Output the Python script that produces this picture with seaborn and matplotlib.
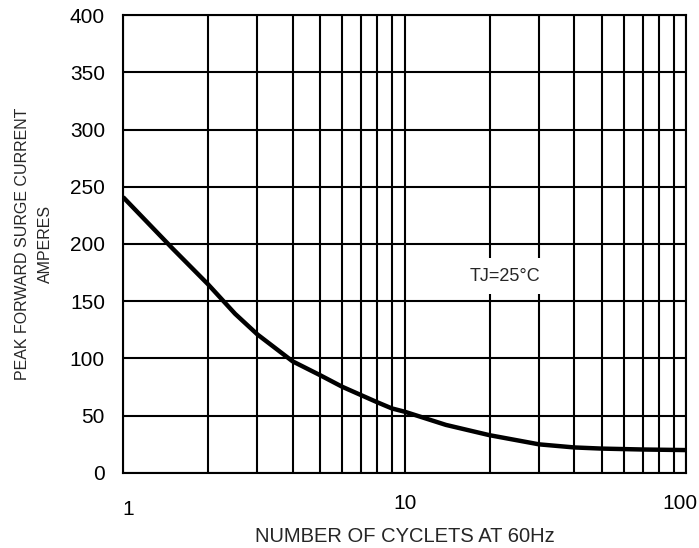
import numpy as np
import pandas as pd
import seaborn as sns
import matplotlib
matplotlib.use('Agg')
import matplotlib.pyplot as plt
import matplotlib.transforms as mtransforms
from matplotlib.ticker import FixedLocator, NullFormatter, LogLocator

cycles = [1, 1.5, 2, 2.5, 3, 4, 5, 6, 7, 8, 9, 10, 14, 20, 30, 40, 50, 70, 100]
current = [241, 196, 165, 139, 121, 97.5, 85.5, 75.3, 68, 61.7, 56.4, 53.5, 42,
           33, 25, 22.3, 21.3, 20.5, 20]
x_ticks = [1, 10, 100]
x_tick_labels = ['1', '10', '100']
y_ticks = [0, 50, 100, 150, 200, 250, 300, 350, 400]

sns.set_style('white')
plt.rcParams['font.family'] = ['Liberation Sans', 'DejaVu Sans']

df = pd.DataFrame({'cycles': cycles, 'current': current})

fig = plt.figure(figsize=(6.99, 5.48), dpi=100)
ax = fig.add_axes([0.176, 0.1369, 0.806, 0.8357])

sns.lineplot(data=df, x='cycles', y='current', color='black', linewidth=3.2,
             ax=ax, zorder=3)
ax.lines[-1].set_solid_capstyle('butt')
ax.lines[-1].set_solid_joinstyle('round')

ax.set_xscale('log')
ax.set_xlim(1, 100)
ax.set_ylim(0, 400)
ax.xaxis.set_major_locator(FixedLocator(x_ticks))
ax.set_xticklabels(x_tick_labels)
ax.xaxis.set_minor_locator(LogLocator(base=10, subs=np.arange(2, 10)))
ax.xaxis.set_minor_formatter(NullFormatter())
ax.set_yticks(y_ticks)

ax.grid(False)
ax.xaxis.grid(True, which='both', color='black', linewidth=1.5)
ax.yaxis.grid(True, which='major', color='black', linewidth=1.5)
for s in ax.spines.values():
    s.set_color('black')
    s.set_linewidth(1.5)

ax.tick_params(axis='both', which='both', length=0, labelsize=15, colors='black')
ax.tick_params(axis='x', pad=15)
ax.tick_params(axis='y', pad=13)

# nudge end labels like the reference
lbls = ax.get_xticklabels()
lbls[0].set_transform(lbls[0].get_transform() +
                      mtransforms.ScaledTranslation(5 / 100, -6 / 100, fig.dpi_scale_trans))
lbls[-1].set_transform(lbls[-1].get_transform() +
                       mtransforms.ScaledTranslation(-6 / 100, 0, fig.dpi_scale_trans))

ax.set_xlabel('NUMBER OF CYCLETS AT 60Hz', fontsize=14.5, labelpad=6)
ax.set_ylabel('PEAK FORWARD SURGE CURRENT\nAMPERES', fontsize=11.5,
              linespacing=1.7, labelpad=12)

ax.text(22.7, 172, 'TJ=25°C', fontsize=13, ha='center', va='center', zorder=4,
        bbox=dict(facecolor='white', edgecolor='none', pad=7))

fig.savefig('out.png', dpi=100)
